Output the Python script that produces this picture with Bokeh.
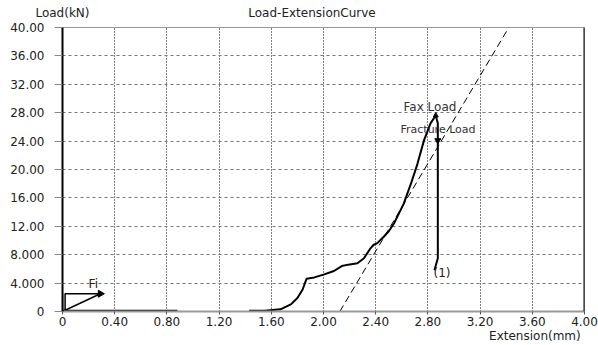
import numpy as np
from bokeh.plotting import figure
from bokeh.models import Range1d, FixedTicker, Label, Span, LinearAxis
from bokeh.embed import file_html
from bokeh.resources import INLINE

# ---- data ----
ext = np.array([0.0, 0.1, 0.3, 0.5, 0.7, 0.88, np.nan,
                1.43, 1.55, 1.67, 1.75, 1.80, 1.84, 1.87, 1.93, 2.00, 2.08, 2.14,
                2.19, 2.26, 2.31, 2.36, 2.385, 2.41, 2.46, 2.50, 2.54, 2.615, 2.67,
                2.72, 2.77, 2.82, 2.86, 2.876, 2.876, 2.85])
load = np.array([0.1, 0.1, 0.1, 0.1, 0.1, 0.1, np.nan,
                 0.1, 0.1, 0.3, 1.0, 1.9, 3.1, 4.6, 4.8, 5.2, 5.7, 6.4,
                 6.6, 6.8, 7.5, 8.9, 9.4, 9.6, 10.5, 11.3, 12.4, 15.2, 18.0,
                 20.8, 24.1, 26.5, 27.6, 26.5, 7.5, 5.8])

tangent_x = [2.125, 3.42]
tangent_y = [0.0, 40.0]

fi_x = [0.02, 0.02, 0.29]
fi_y = [0.0, 2.5, 2.5]
fi_diag_x = [0.0, 0.29]
fi_diag_y = [0.0, 2.5]

peak_x, peak_y = [2.86], [27.6]
frac_x, frac_y = [2.876], [24.1]

x_ticks = [0, 0.4, 0.8, 1.2, 1.6, 2.0, 2.4, 2.8, 3.2, 3.6, 4.0]
x_tick_labels = ["0", "0.40", "0.80", "1.20", "1.60", "2.00", "2.40", "2.80", "3.20", "3.60", "4.00"]
y_ticks = [0, 4, 8, 12, 16, 20, 24, 28, 32, 36, 40]
y_tick_labels = ["0", "4.000", "8.000", "12.00", "16.00", "20.00", "24.00", "28.00", "32.00", "36.00", "40.00"]

FONT = "DejaVu Sans"
FS = "12px"

p = figure(width=598, height=345, output_backend="svg", toolbar_location=None,
           x_range=Range1d(0, 4), y_range=Range1d(0, 40),
           min_border_left=62, min_border_right=14, min_border_top=27, min_border_bottom=33)
p.background_fill_color = "white"
p.border_fill_color = "white"
p.outline_line_color = "#999999"
p.outline_line_width = 1

# axes
p.xaxis.ticker = FixedTicker(ticks=x_ticks)
p.xaxis.major_label_overrides = {t: l for t, l in zip(x_ticks, x_tick_labels)}
p.yaxis.ticker = FixedTicker(ticks=y_ticks)
p.yaxis.major_label_overrides = {t: l for t, l in zip(y_ticks, y_tick_labels)}
for ax in (p.xaxis, p.yaxis):
    ax.minor_tick_line_color = None
    ax.major_label_text_font = FONT
    ax.major_label_text_font_size = FS
    ax.major_label_text_color = "#222222"
    ax.major_tick_in = 0
p.yaxis.axis_line_color = "black"
p.yaxis.axis_line_width = 2
p.yaxis.major_tick_out = 8
p.yaxis.major_tick_line_color = "#888888"
p.yaxis.major_label_standoff = 10
p.xaxis.axis_line_color = "#999999"
p.xaxis.axis_line_width = 2
p.xaxis.major_tick_out = 3
p.xaxis.major_tick_line_color = "#555555"
p.xaxis.major_label_standoff = 2

def bare_axis(ticks, labels, standoff):
    return LinearAxis(ticker=FixedTicker(ticks=ticks),
                      major_label_overrides={t: l for t, l in zip(ticks, labels)},
                      axis_line_color=None, major_tick_line_color=None, minor_tick_line_color=None,
                      major_tick_out=0, major_tick_in=0, major_label_standoff=standoff,
                      major_label_text_font=FONT, major_label_text_font_size=FS,
                      major_label_text_color="#222222")

# header line: "Load(kN)" and the chart title
head_ticks = [0.0, 1.912]
head_labels = ["Load(kN)", "Load-ExtensionCurve"]
p.add_layout(bare_axis(head_ticks, head_labels, 8), "above")

# x-axis title, right side under the axis
xt_ticks = [3.62]
xt_labels = ["Extension(mm)"]
p.add_layout(bare_axis(xt_ticks, xt_labels, 0), "below")

# grids
p.xgrid.grid_line_color = "black"
p.xgrid.grid_line_dash = "1 2"
p.xgrid.grid_line_width = 1
p.ygrid.grid_line_color = "#777777"
p.ygrid.grid_line_dash = "3 3"
p.ygrid.grid_line_width = 1

# right border black
p.add_layout(Span(location=4, dimension="height", line_color="black", line_width=2))

# curves
p.line(tangent_x, tangent_y, line_color="black", line_width=1, line_dash="7 4")
p.line(ext, load, line_color="black", line_width=2)
p.line(fi_x, fi_y, line_color="black", line_width=1.5)
p.line([0.0, 0.0], [0.0, 2.5], line_color="black", line_width=1.5)
p.line(fi_diag_x, fi_diag_y, line_color="black", line_width=1.5)
p.scatter([0.29], [2.5], marker="triangle", angle=-np.pi / 2, size=7,
          fill_color="black", line_color="black")
p.scatter(peak_x, peak_y, marker="triangle", size=5, fill_color="black", line_color="black")
p.scatter(frac_x, frac_y, marker="inverted_triangle", size=6, fill_color="black", line_color="black")

def lab(x, y, text, size=FS, color="#222222"):
    p.add_layout(Label(x=x, y=y, text=text, text_font=FONT, text_font_size=size,
                       text_color=color, text_baseline="middle", text_align="left"))

lab(2.613, 28.76, "Fax Load", "12px", "#333333")
lab(2.59, 25.67, "Fracture Load", "11px", "#333333")
lab(2.843, 5.41, "(1)")
lab(0.2, 3.9, "Fi")

open("out.html", "w").write(file_html(p, INLINE))
